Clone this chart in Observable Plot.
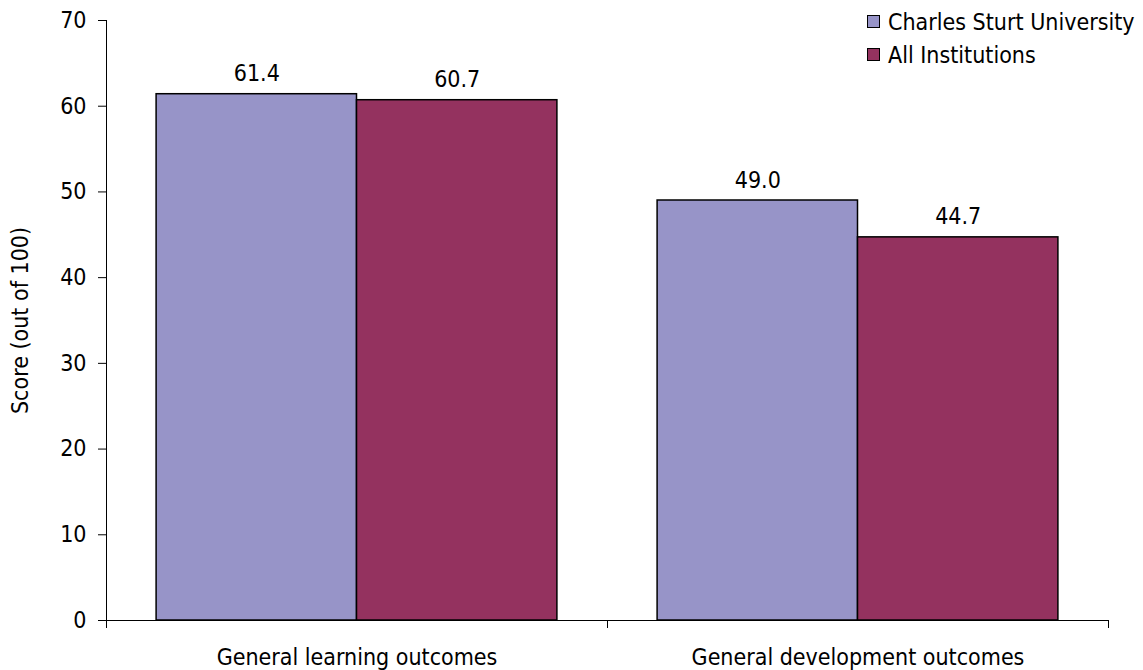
<!DOCTYPE html>
<html>
<head>
<meta charset="utf-8">
<script src="https://cdn.jsdelivr.net/npm/d3@7"></script>
<script src="https://cdn.jsdelivr.net/npm/@observablehq/plot@0.6"></script>
<style>
  html, body { margin: 0; padding: 0; background: #fff; }
  #chart { position: relative; width: 1143px; height: 670px; font-family: "DejaVu Sans Condensed", "DejaVu Sans", sans-serif; }
  #legend { position: absolute; left: 867px; top: 5px; font-size: 23px; color: #000; }
  #legend .row { display: flex; align-items: center; height: 33px; }
  #legend .sw { width: 11px; height: 11px; border: 1.5px solid #000; margin-right: 8px; }
</style>
</head>
<body>
<div id="chart"><div id="legend"></div></div>
<script>
const categories = ["General learning outcomes", "General development outcomes"];
const series = ["Charles Sturt University", "All Institutions"];
const csuScores = [61.4, 49.0];
const allScores = [60.7, 44.7];
const yTicks = [0, 10, 20, 30, 40, 50, 60, 70];
const colors = ["#9794c8", "#94325f"];
const font = '"DejaVu Sans Condensed", "DejaVu Sans", sans-serif';

// Group layout: each category occupies one unit on x; the series split its middle 80%.
const group = d3.scaleBand().domain(series).range([0.1, 0.9]).padding(0);
const rows = [];
categories.forEach((c, i) => {
  [csuScores, allScores].forEach((vals, s) => {
    const x1 = i + group(series[s]);
    rows.push({category: c, series: series[s], value: vals[i], x1, x2: x1 + group.bandwidth()});
  });
});
const catRows = categories.map((c, i) => ({category: c, mid: i + 0.5}));

const plot = Plot.plot({
  width: 1143,
  height: 670,
  marginLeft: 106,
  marginRight: 35,
  marginTop: 20,
  marginBottom: 50,
  style: {fontFamily: font, fontSize: "23px", color: "#000", background: "transparent"},
  x: {type: "linear", domain: [0, categories.length], axis: null},
  y: {type: "linear", domain: [0, 70], axis: null},
  color: {domain: series, range: colors},
  marks: [
    Plot.rectY(rows, {x1: "x1", x2: "x2", y: "value", fill: "series", stroke: "#000", strokeWidth: 1.5}),
    Plot.text(rows, {x: d => (d.x1 + d.x2) / 2, y: "value", text: d => d.value.toFixed(1), lineAnchor: "bottom", dy: -13, fontSize: 23, fill: "#000"}),
    // y axis
    Plot.ruleX([0], {stroke: "#000", strokeWidth: 1}),
    Plot.axisY({ticks: yTicks, tickSize: 8, tickPadding: 12, fontSize: 23, stroke: "#000", label: null}),
    Plot.text(["Score (out of 100)"], {frameAnchor: "left", textAnchor: "middle", dx: -86, rotate: -90, fontSize: 23, fill: "#000"}),
    // x axis
    Plot.ruleY([0], {stroke: "#000", strokeWidth: 1}),
    Plot.axisX({ticks: d3.range(categories.length + 1), tickSize: 8, tickFormat: () => "", stroke: "#000", label: null}),
    Plot.text(catRows, {x: "mid", y: 0, text: "category", dy: 37, fontSize: 23, fill: "#000"})
  ]
});
document.getElementById("chart").prepend(plot);

const legend = d3.select("#legend");
series.forEach((s, i) => {
  const row = legend.append("div").attr("class", "row");
  row.append("div").attr("class", "sw").style("background", colors[i]);
  row.append("span").text(s);
});
</script>
</body>
</html>
